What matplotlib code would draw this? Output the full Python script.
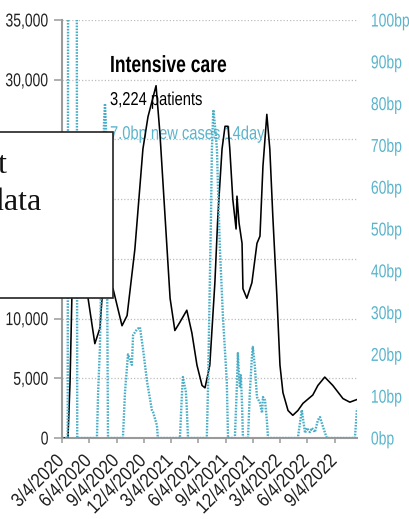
import matplotlib
matplotlib.use('Agg')
import matplotlib.pyplot as plt
from matplotlib.patches import Rectangle
from matplotlib.patheffects import AbstractPathEffect
from matplotlib.transforms import Affine2D
from matplotlib.ticker import FuncFormatter
import pandas as pd

# ---------------- data ----------------
icu_dates = ['2020-03-04', '2020-03-24', '2020-03-31', '2020-04-06', '2020-04-27',
             '2020-05-30', '2020-06-22', '2020-07-09', '2020-07-16', '2020-08-02',
             '2020-08-22', '2020-09-21', '2020-10-08', '2020-11-03', '2020-11-30',
             '2020-12-17', '2021-01-13', '2021-01-26', '2021-02-12', '2021-03-01',
             '2021-03-17', '2021-04-03', '2021-04-26', '2021-05-13', '2021-05-30',
             '2021-06-16', '2021-06-26', '2021-07-12', '2021-07-29', '2021-08-08',
             '2021-08-22', '2021-09-01', '2021-09-11', '2021-09-17', '2021-09-27',
             '2021-10-08', '2021-10-11', '2021-10-18', '2021-10-28', '2021-10-31',
             '2021-11-13', '2021-11-30', '2021-12-17', '2021-12-27', '2022-01-06',
             '2022-01-19', '2022-01-29', '2022-02-08', '2022-02-22', '2022-03-04',
             '2022-03-14', '2022-03-31', '2022-04-16', '2022-05-03', '2022-05-20',
             '2022-06-22', '2022-07-09', '2022-08-01', '2022-08-28', '2022-10-01',
             '2022-10-24', '2022-11-17']
icu_patients = [0, 0, 4700, 11700, 20000,
                11750, 7900, 9200, 11700, 13000,
                12500, 9400, 10250, 15800, 24200,
                26900, 29500, 25500, 18600, 11700,
                9000, 9700, 10700, 8800, 6100,
                4400, 4200, 6100, 13000, 18600,
                24200, 26100, 26100, 24200, 20000,
                17500, 20250, 18000, 16300, 12500,
                11700, 13000, 16300, 16900, 22750,
                27100, 24200, 18600, 11700, 6100,
                3800, 2300, 1900, 2300, 2900,
                3600, 4400, 5100, 4400, 3300,
                3000, 3224]

case_dates = ['2020-03-04', '2020-03-23', '2020-03-25', '2020-04-22', '2020-04-24',
              '2020-06-29', '2020-07-03', '2020-07-09', '2020-07-16', '2020-07-23',
              '2020-07-26', '2020-07-29', '2020-08-02', '2020-08-05',
              '2020-09-24', '2020-10-01', '2020-10-11', '2020-10-24', '2020-10-28',
              '2020-11-10', '2020-11-20', '2020-11-30', '2020-12-14', '2020-12-30',
              '2021-01-03', '2021-01-16', '2021-01-19',
              '2021-04-03', '2021-04-10', '2021-04-13', '2021-04-23', '2021-04-26',
              '2021-04-30',
              '2021-07-02', '2021-07-06', '2021-07-12', '2021-07-16', '2021-07-19',
              '2021-07-23', '2021-07-24', '2021-07-29', '2021-08-05', '2021-08-08',
              '2021-08-15', '2021-08-25', '2021-09-07', '2021-09-11',
              '2021-10-04', '2021-10-11', '2021-10-14', '2021-10-18', '2021-10-21',
              '2021-10-24', '2021-10-28', '2021-10-31',
              '2021-11-17', '2021-11-23', '2021-11-30', '2021-12-03', '2021-12-10',
              '2021-12-17', '2021-12-27', '2022-01-03', '2022-01-06', '2022-01-13',
              '2022-01-19', '2022-01-23',
              '2022-05-03', '2022-05-10', '2022-05-16', '2022-05-27', '2022-06-02',
              '2022-06-12', '2022-06-19', '2022-06-29', '2022-07-09', '2022-07-16',
              '2022-07-22', '2022-08-02', '2022-08-08',
              '2022-11-10', '2022-11-17']
case_bp = [0, 0, 150, 150, 0,
           0, 11, 21.5, 50, 76,
           80, 75, 40, 0,
           0, 11, 20, 17.5, 24.6,
           26, 26.5, 21.5, 13.4, 6.7,
           6.2, 3, 0,
           0, 11, 14.6, 11, 7,
           0,
           0, 12, 37, 53, 69,
           77, 78.5, 75, 69, 61,
           45, 29, 13.4, 0,
           0, 13, 20.3, 15, 12,
           15, 8, 0,
           0, 10.8, 19.4, 21.8, 17,
           9.8, 8.4, 6, 9.8, 9,
           4.3, 0,
           0, 3.6, 6.7, 1.2, 2.4,
           1.4, 2.4, 1.4, 4.3, 5,
           3.6, 1.2, 0,
           0, 7.0]

x_tick_dates = ['2020-03-04', '2020-06-04', '2020-09-04', '2020-12-04',
                '2021-03-04', '2021-06-04', '2021-09-04', '2021-12-04',
                '2022-03-04', '2022-06-04', '2022-09-04']
x_tick_labels = ['3/4/2020', '6/4/2020', '9/4/2020', '12/4/2020',
                 '3/4/2021', '6/4/2021', '9/4/2021', '12/4/2021',
                 '3/4/2022', '6/4/2022', '9/4/2022']
left_ticks = [0, 5000, 10000, 15000, 20000, 25000, 30000, 35000]
right_ticks = [0, 10, 20, 30, 40, 50, 60, 70, 80, 90, 100]
x_range = ['2020-03-04', '2022-11-17']

title_text = 'Intensive care'
patients_text = '3,224 patients'
cases_text = '7.0bp new cases 14day'
box_lines = ['Hover over the chart', 'to see the data']


# ---------------- condensed look for the sans text ----------------
class Squeeze(AbstractPathEffect):
    """Draw text glyphs narrower (like a condensed face)."""

    def __init__(self, sx=0.76, anchor='left'):
        super().__init__()
        self.sx = sx
        self.anchor = anchor

    def draw_path(self, renderer, gc, tpath, affine, rgbFace=None):
        ext = tpath.get_extents()
        if self.anchor == 'right':
            x0 = ext.x1
        elif self.anchor == 'center':
            x0 = 0.5 * (ext.x0 + ext.x1)
        else:
            x0 = 0.0
        pre = Affine2D().translate(-x0, 0).scale(self.sx, 1.0).translate(x0, 0)
        renderer.draw_path(gc, tpath, pre + affine, rgbFace)


SANS = ['Liberation Sans', 'DejaVu Sans']
SERIF = ['Liberation Serif', 'DejaVu Serif']
plt.rcParams['font.family'] = SANS
TEAL = '#48adc7'
TEAL_LABEL = '#5ab4cc'
SPINE = '#9a9a9a'
GRID = '#bdbdbd'
TICK_FS = 13.4

W, H = 410, 519
fig = plt.figure(figsize=(W / 100, H / 100), dpi=100)
fig.patch.set_facecolor('white')
ax = fig.add_axes([62 / W, 1 - 438 / H, 295 / W, 418 / H])
ax2 = ax.twinx()

icu_x = pd.to_datetime(icu_dates)
case_x = pd.to_datetime(case_dates)

ax.plot(icu_x, icu_patients, color='black', lw=1.15, zorder=3,
        solid_joinstyle='round')
ax2.plot(case_x, case_bp, color=TEAL, lw=1.7, linestyle=(0, (0.7, 0.55)),
         dash_capstyle='butt', zorder=3)

ax.set_xlim(pd.Timestamp(x_range[0]), pd.Timestamp(x_range[1]))
ax.set_ylim(left_ticks[0], left_ticks[-1])
ax2.set_ylim(right_ticks[0], right_ticks[-1])

# gridlines at left ticks
ax.set_yticks(left_ticks)
ax.yaxis.set_major_formatter(FuncFormatter(lambda v, p: f'{int(v):,}'))
ax.grid(axis='y', color=GRID, lw=0.9, linestyle=(0, (1, 1.6)), zorder=0)
ax.grid(axis='x', visible=False)
ax.set_axisbelow(True)

ax.set_xticks(pd.to_datetime(x_tick_dates))
ax.set_xticklabels(x_tick_labels, rotation=45, ha='right', va='center',
                   rotation_mode='anchor', fontsize=14, color='#222222')
ax.tick_params(axis='x', length=3.6, width=1.1, color=SPINE, pad=11)
ax.tick_params(axis='y', length=5.5, width=1.1, color=SPINE, pad=4,
               labelsize=TICK_FS, labelcolor='#222222')

ax2.set_yticks(right_ticks)
ax2.set_yticklabels([f'{t}bp' for t in right_ticks])
ax2.tick_params(axis='y', length=0, pad=10, labelsize=TICK_FS,
                labelcolor=TEAL_LABEL)

for a in (ax, ax2):
    a.spines['top'].set_visible(False)
    a.spines['right'].set_visible(False)
    a.patch.set_visible(False)
ax2.spines['left'].set_visible(False)
ax2.spines['bottom'].set_visible(False)
ax.spines['left'].set_color(SPINE)
ax.spines['bottom'].set_color(SPINE)
ax.spines['left'].set_linewidth(1.5)
ax.spines['bottom'].set_linewidth(1.5)

for lab in ax.get_yticklabels():
    lab.set_path_effects([Squeeze(0.75, 'right')])
for lab in ax.get_xticklabels():
    lab.set_path_effects([Squeeze(0.86, 'right')])
for lab in ax2.get_yticklabels():
    lab.set_path_effects([Squeeze(0.75, 'left')])


# header texts (underneath the lines)
def fx(px):
    return px / W


def fy(py):
    return 1 - py / H


t1 = ax.text(fx(110), fy(72), title_text, transform=fig.transFigure,
             fontsize=16.8, fontweight='bold', color='black', zorder=1,
             va='baseline', ha='left', clip_on=False)
t2 = ax.text(fx(110), fy(105), patients_text, transform=fig.transFigure,
             fontsize=13.4, color='black', zorder=1, va='baseline', ha='left',
             clip_on=False)
t3 = ax.text(fx(110), fy(139), cases_text, transform=fig.transFigure,
             fontsize=13.4, color=TEAL_LABEL, zorder=1, va='baseline',
             ha='left', clip_on=False)
t1.set_path_effects([Squeeze(0.75, 'left')])
t2.set_path_effects([Squeeze(0.79, 'left')])
t3.set_path_effects([Squeeze(0.79, 'left')])

# overlapping box on the left
box = Rectangle((fx(-10), fy(298)), fx(123), (298 - 132) / H,
                transform=fig.transFigure, facecolor='white',
                edgecolor='#222222', lw=1.2, zorder=10)
fig.add_artist(box)
fig.text(fx(7), fy(173), box_lines[0], ha='right', va='baseline',
         fontsize=23, family=SERIF, color='#111111', zorder=11)
fig.text(fx(41), fy(210), box_lines[1], ha='right', va='baseline',
         fontsize=23, family=SERIF, color='#111111', zorder=11)

fig.savefig('out.png', dpi=100, facecolor='white')
